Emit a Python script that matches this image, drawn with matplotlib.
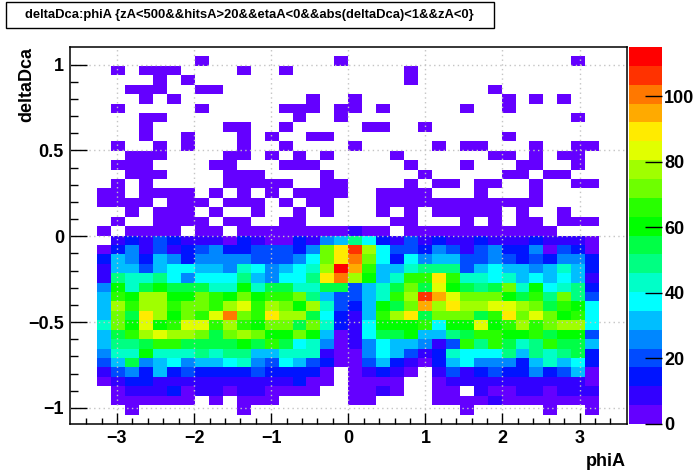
import numpy as np
import matplotlib
matplotlib.use("Agg")
import matplotlib.pyplot as plt
from matplotlib.colors import ListedColormap
from matplotlib.patches import Rectangle

title = "deltaDca:phiA {zA<500&&hitsA>20&&etaA<0&&abs(deltaDca)<1&&zA<0}"
x_label = "phiA"
y_label = "deltaDca"

phi_range = [-3.616, 3.615]
dca_range = [1.103, -1.094]
n_bins = 40
z_max = 115.1

x_ticks = [-3, -2, -1, 0, 1, 2, 3]
x_tick_labels = ["\u22123", "\u22122", "\u22121", "0", "1", "2", "3"]
y_ticks = [-1, -0.5, 0, 0.5, 1]
y_tick_labels = ["\u22121", "\u22120.5", "0", "0.5", "1"]
z_ticks = [0, 20, 40, 60, 80, 100]

# columns that hold a few entries, rows 0-19 from the top
sparse_cols = [
    [],
    [9, 19, 36],
    [3, 5, 6, 7, 12, 15, 24],
    [6, 8, 24],
    [4, 5, 6, 9, 10, 30],
    [5, 7, 17, 20, 31, 33, 35],
    [3, 9, 15, 16, 17, 19, 20, 22, 28, 31],
    [5, 6, 16, 19, 36],
    [5, 11, 12, 15, 21, 22, 25],
    [5, 8, 12, 14, 17, 18, 31],
    [3, 6, 8, 12, 15, 20, 26, 28, 29, 33, 36, 37],
    [4, 5, 6, 11, 12, 14, 16, 18, 23, 30, 31, 33, 35, 36],
    [3, 4, 5, 10, 11, 15, 16, 17, 24, 28, 32, 33, 36],
    [4, 5, 6, 11, 12, 13, 18, 25, 31, 32, 34, 35],
    [3, 5, 11, 12, 13, 14, 15, 18, 19, 24, 26, 27, 29, 30, 33, 36, 37],
    [2, 3, 5, 6, 7, 8, 10, 12, 14, 16, 17, 18, 19, 22, 23, 24, 25, 29, 33],
    [2, 3, 4, 5, 7, 8, 9, 11, 12, 13, 15, 17, 18, 22, 23, 24, 25, 26, 27, 28, 29, 30, 31, 32, 33],
    [4, 6, 7, 8, 10, 13, 16, 18, 22, 24, 26, 27, 28, 29, 30, 32, 35],
    [3, 6, 7, 8, 9, 11, 12, 15, 16, 23, 24, 28, 30, 32, 33, 35, 36, 37],
    [2, 4, 5, 6, 7, 9, 10, 12, 13, 14, 15, 16, 17, 18, 19, 20, 21, 22, 24, 25, 26, 27, 28, 29, 30, 31, 32, 33, 34],
]
sparse_count = 2

# rows 20-39 from the top, counts
row_20 = [0, 0, 0, 9, 14, 9, 20, 14, 9, 9, 9, 3, 14, 9, 3, 3, 14, 9, 26, 32, 49, 37, 14, 9, 20, 9, 14, 9, 9, 14, 9, 9, 9, 14, 9, 9, 9, 3, 0, 0]
row_21 = [0, 0, 3, 14, 26, 9, 20, 9, 14, 20, 26, 14, 14, 20, 20, 20, 14, 26, 72, 89, 107, 78, 37, 20, 20, 14, 26, 20, 9, 20, 26, 14, 14, 26, 3, 20, 14, 3, 0, 0]
row_22 = [0, 0, 14, 32, 26, 14, 32, 26, 14, 26, 26, 26, 26, 20, 20, 20, 26, 37, 72, 89, 101, 72, 37, 14, 37, 26, 32, 32, 20, 20, 26, 20, 14, 20, 14, 26, 26, 14, 0, 0]
row_23 = [0, 0, 9, 32, 32, 20, 32, 37, 37, 32, 32, 26, 43, 37, 26, 32, 37, 43, 78, 112, 95, 66, 32, 32, 43, 49, 49, 49, 20, 32, 37, 32, 32, 26, 32, 43, 32, 14, 0, 0]
row_24 = [0, 0, 9, 49, 43, 43, 49, 37, 26, 37, 37, 37, 49, 32, 26, 37, 37, 49, 89, 101, 78, 60, 32, 43, 66, 66, 89, 66, 43, 43, 37, 43, 32, 37, 32, 37, 32, 9, 0, 0]
row_25 = [0, 0, 26, 60, 43, 55, 60, 55, 55, 55, 43, 43, 60, 43, 55, 55, 43, 43, 55, 55, 20, 32, 43, 55, 72, 55, 84, 60, 55, 49, 55, 72, 43, 60, 37, 43, 49, 14, 0, 0]
row_26 = [0, 0, 32, 66, 60, 78, 78, 60, 60, 72, 66, 60, 72, 60, 66, 66, 72, 49, 32, 20, 20, 32, 43, 66, 78, 107, 95, 84, 72, 72, 72, 60, 55, 66, 49, 72, 49, 20, 0, 0]
row_27 = [0, 0, 32, 78, 66, 78, 78, 66, 72, 72, 66, 78, 84, 66, 78, 72, 60, 78, 43, 20, 14, 32, 60, 55, 72, 95, 78, 89, 78, 78, 84, 84, 78, 72, 55, 66, 60, 37, 0, 0]
row_28 = [0, 0, 32, 72, 55, 89, 78, 60, 72, 66, 84, 101, 72, 66, 89, 78, 78, 55, 37, 14, 9, 32, 66, 78, 89, 55, 72, 72, 72, 55, 66, 89, 72, 84, 72, 60, 66, 37, 0, 0]
row_29 = [0, 0, 43, 72, 60, 84, 60, 66, 84, 84, 66, 78, 66, 60, 72, 72, 55, 72, 43, 14, 9, 37, 60, 60, 60, 66, 37, 60, 60, 84, 60, 66, 78, 66, 72, 78, 78, 37, 0, 0]
row_30 = [0, 0, 32, 55, 66, 78, 84, 78, 78, 72, 55, 72, 78, 72, 60, 60, 72, 60, 32, 3, 9, 37, 55, 55, 60, 32, 32, 49, 55, 66, 66, 60, 60, 66, 55, 60, 60, 20, 0, 0]
row_31 = [0, 0, 32, 49, 49, 55, 66, 66, 55, 55, 55, 55, 60, 55, 66, 55, 37, 43, 26, 3, 9, 26, 37, 32, 32, 26, 9, 20, 66, 49, 66, 55, 43, 49, 66, 55, 55, 32, 0, 0]
row_32 = [0, 0, 26, 43, 43, 60, 43, 43, 43, 49, 43, 49, 49, 32, 32, 43, 43, 43, 9, 3, 3, 26, 37, 32, 20, 9, 14, 43, 37, 37, 37, 49, 32, 49, 43, 49, 55, 14, 0, 0]
row_33 = [0, 0, 20, 32, 55, 26, 32, 37, 26, 32, 32, 37, 43, 26, 20, 37, 32, 20, 14, 3, 3, 20, 32, 14, 9, 3, 14, 32, 37, 26, 26, 26, 14, 32, 43, 32, 37, 14, 0, 0]
row_34 = [0, 0, 9, 20, 26, 14, 32, 14, 20, 14, 14, 14, 14, 20, 14, 14, 14, 14, 3, 0, 3, 9, 14, 9, 3, 0, 9, 20, 9, 14, 20, 14, 14, 26, 14, 20, 32, 3, 0, 0]
row_35 = [0, 0, 3, 9, 14, 14, 9, 9, 9, 9, 9, 9, 9, 9, 9, 9, 14, 3, 3, 0, 3, 3, 3, 3, 0, 0, 3, 9, 9, 9, 9, 9, 9, 9, 9, 9, 9, 3, 0, 0]
row_36 = [0, 0, 0, 3, 9, 9, 9, 14, 3, 9, 9, 3, 9, 9, 3, 3, 3, 3, 0, 0, 3, 3, 9, 3, 0, 0, 3, 3, 0, 9, 3, 3, 9, 9, 3, 9, 9, 9, 0, 0]
row_37 = [0, 0, 0, 3, 3, 3, 3, 3, 3, 0, 3, 0, 3, 3, 3, 0, 0, 0, 0, 0, 3, 3, 0, 0, 0, 0, 3, 3, 3, 3, 9, 3, 3, 3, 3, 3, 3, 3, 0, 0]
row_38 = [0, 0, 0, 0, 3, 0, 0, 0, 0, 0, 0, 0, 3, 0, 0, 0, 0, 0, 0, 0, 0, 0, 0, 0, 0, 0, 0, 0, 3, 0, 0, 0, 0, 0, 3, 0, 0, 3, 0, 0]
row_39 = [0] * n_bins

palette = ["#6400ff", "#3200ff", "#0014ff", "#004bff", "#0087ff", "#00beff", "#00ffff",
           "#00ffc8", "#00ff82", "#00ff46", "#00ff00", "#28ff00", "#6eff00", "#a0ff00",
           "#e1ff00", "#ffeb00", "#ffaa00", "#ff7800", "#ff3200", "#ff0000"]

counts = np.zeros((n_bins, n_bins))
for r, cols in enumerate(sparse_cols):
    counts[r, cols] = sparse_count
counts[19, 20] = 9
counts[20:] = np.array([row_20, row_21, row_22, row_23, row_24, row_25, row_26, row_27, row_28, row_29,
                        row_30, row_31, row_32, row_33, row_34, row_35, row_36, row_37, row_38, row_39])

phi_edges = np.linspace(phi_range[0], phi_range[1], n_bins + 1)
dca_edges = np.linspace(dca_range[0], dca_range[1], n_bins + 1)

plt.rcParams["font.family"] = ["Liberation Sans", "DejaVu Sans"]
plt.rcParams["font.weight"] = "bold"

W, H = 696, 472


def px_axes(left, top, right, bottom):
    return fig.add_axes([left / W, 1 - bottom / H, (right - left) / W, (bottom - top) / H])


fig = plt.figure(figsize=(W / 100, H / 100), dpi=100)
ax = px_axes(69.5, 47, 627, 424)
cax = px_axes(629, 47, 661.5, 424)

cmap = ListedColormap(palette)
mesh = ax.pcolormesh(phi_edges, dca_edges, np.ma.masked_equal(counts, 0),
                     cmap=cmap, vmin=0, vmax=z_max, linewidth=0, antialiased=False)
ax.set_xlim(phi_range[0], phi_range[1])
ax.set_ylim(dca_range[1], dca_range[0])

ax.set_xticks(x_ticks, x_tick_labels)
ax.set_yticks(y_ticks, y_tick_labels)
ax.set_xticks(np.arange(-3.4, 3.5, 0.2), minor=True)
ax.set_yticks(np.arange(-1, 1.05, 0.1), minor=True)
ax.tick_params(axis="x", which="major", direction="in", length=8, width=1, labelsize=13, pad=4)
ax.tick_params(axis="x", which="minor", direction="in", length=4, width=1)
ax.tick_params(axis="y", which="major", direction="in", length=12, width=1, labelsize=13, pad=4)
ax.tick_params(axis="y", which="minor", direction="in", length=6, width=1)
ax.set_axisbelow(False)
ax.grid(True, which="major", color="#c4c4c4", linestyle=(0, (1, 2.4)), linewidth=1)
for s in ax.spines.values():
    s.set_linewidth(1.1)

cb = fig.colorbar(mesh, cax=cax)
cb.outline.set_visible(False)
cb.set_ticks(z_ticks)
cb.ax.tick_params(direction="in", length=12.5, width=1, labelsize=13, pad=2)

fig.text(626 / W, 1 - 461 / H, x_label, fontsize=13, ha="right", va="center")
fig.text(27 / W, 1 - 47 / H, y_label, fontsize=13, rotation=90, ha="center", va="top")

fig.add_artist(Rectangle((6.3 / W, 1 - 28.3 / H), 488 / W, 26 / H, transform=fig.transFigure,
                         facecolor="white", edgecolor="black", linewidth=1))
fig.text(249.5 / W, 1 - 15 / H, title, fontsize=9.35, ha="center", va="center")

fig.savefig("out.png", dpi=100)
